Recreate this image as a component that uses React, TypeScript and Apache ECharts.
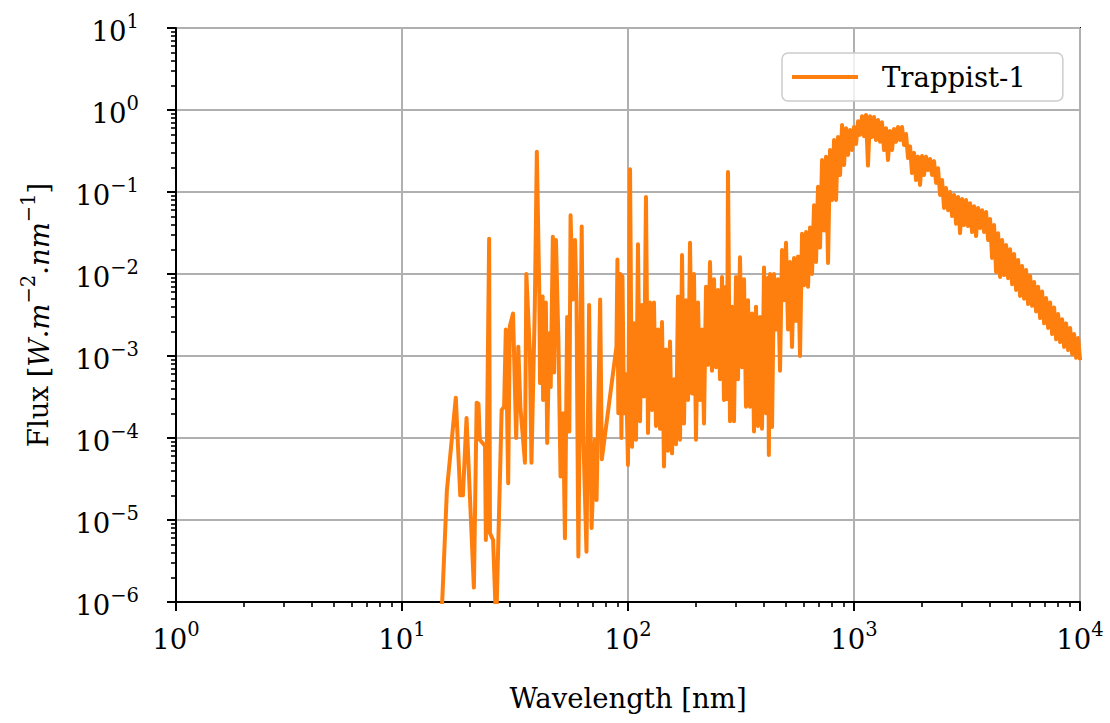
import React, { useEffect, useRef } from 'react';
import * as echarts from 'echarts';

// ---------- data (wavelength [nm], flux [W m^-2 nm^-1]) ----------
const SERIES_NAME = 'Trappist-1';
const X_LABEL = 'Wavelength [nm]';
const X_MIN = 1;
const X_MAX = 10000;
const Y_MIN = 1e-6;
const Y_MAX = 10;
const xDecades = [0, 1, 2, 3, 4];
const yDecades = [-6, -5, -4, -3, -2, -1, 0, 1];
const minorMantissas = [2, 3, 4, 5, 6, 7, 8, 9];

const fluxXuv: [number, number][] = [
  [14.9, 5e-7], [15.8, 2.3e-5], [17.3, 3.1e-4], [18.1, 2.0e-5], [18.6, 2.0e-5], [19.3, 1.75e-4],
  [20.8, 1.5e-6], [21.4, 2.7e-4], [21.8, 2.6e-4], [22.1, 9.5e-5], [23.3, 8.0e-5], [23.5, 5.7e-6],
  [24.3, 2.7e-2], [24.5, 6.9e-6], [25.3, 5.7e-6], [26.1, 5.0e-7], [27.6, 2.2e-4], [28.3, 2.4e-4],
  [28.8, 2.1e-3], [29.5, 2.8e-5], [30.0, 2.3e-3], [31.0, 3.3e-3], [32.0, 1.0e-4], [32.7, 1.3e-3],
  [33.4, 2.4e-4], [35.0, 5.0e-5], [35.5, 1.0e-2], [36.8, 1.1e-3], [37.4, 5.0e-5], [38.7, 4.0e-3],
  [39.5, 0.31], [40.5, 5.9e-3], [40.8, 4.7e-4], [41.9, 5.3e-3], [42.1, 2.9e-4], [43.3, 4.5e-3],
  [43.9, 8.7e-5], [44.9, 1.9e-3], [45.5, 4.2e-4], [46.5, 2.85e-2], [47.1, 6.3e-4], [48.0, 2.6e-2],
  [49.2, 1.6e-3], [50.3, 3.4e-5], [51.6, 2.0e-4], [52.6, 6.0e-6], [53.8, 3.0e-3], [55.0, 1.2e-4],
  [55.7, 5.2e-2], [57.0, 4.9e-3], [58.3, 2.6e-2], [59.2, 4.5e-3], [60.3, 3.6e-6], [62.4, 3.8e-2],
  [63.5, 9.5e-5], [65.5, 4.1e-6], [67.3, 4.2e-3], [69.0, 8.0e-6], [71.3, 9.5e-5], [72.6, 1.75e-5],
  [75.3, 4.9e-3], [76.6, 5.5e-5], [88.9, 1.3e-3], [89.8, 1.5e-2], [90.6, 2.0e-4], [92.5, 1.0e-2],
  [93.5, 1.0e-4], [94.5, 9.4e-3], [96.0, 2.0e-4], [98.0, 6.0e-4],
];

const fluxUv: [number, number][] = [
  [100.0, 4.7e-5], [102.1, 0.19], [104.2, 7.8e-5], [106.3, 2.5e-3], [108.5, 9.5e-5], [110.7, 2.3e-2],
  [113.0, 1.6e-4], [115.3, 4.2e-3], [117.7, 3.2e-4], [120.1, 8.7e-2], [122.6, 1.15e-4], [125.1, 4.5e-3],
  [127.7, 2.2e-4], [130.3, 4.5e-3], [133.0, 1.4e-4], [135.8, 2.1e-3], [138.6, 1.3e-4], [141.4, 2.6e-3],
  [144.3, 4.5e-5], [147.3, 1.2e-3], [150.3, 7.0e-5], [153.4, 1.5e-3], [156.6, 6.5e-5], [159.8, 5.2e-4],
  [163.1, 8.4e-5], [166.4, 5.3e-3], [169.9, 9.5e-5], [173.4, 1.7e-2], [176.9, 1.5e-4], [180.6, 4.8e-3],
  [184.3, 2.9e-4], [188.1, 2.4e-2], [192.0, 3.5e-4], [195.9, 1.0e-2], [199.9, 9.5e-5], [204.1, 4.5e-3],
  [208.3, 2.9e-4], [212.6, 2.1e-3], [216.9, 1.5e-4], [221.4, 7.0e-3], [226.0, 7.8e-4], [230.6, 1.4e-2],
  [235.3, 6.6e-4], [240.2, 8.6e-3], [245.1, 7.3e-4], [250.2, 6.4e-3], [255.3, 5.2e-4], [260.6, 9.2e-3],
  [265.9, 2.9e-4], [271.4, 7.0e-3], [274.0, 3.0e-4], [277.0, 0.175], [282.7, 1.6e-4], [288.5, 4.0e-3],
  [294.5, 1.6e-4], [300.5, 9.2e-3], [306.7, 5.2e-4], [313.0, 1.6e-2], [319.5, 7.3e-4], [326.1, 8.6e-3],
  [332.8, 2.4e-4], [339.6, 4.8e-3], [346.6, 2.4e-4], [353.8, 3.3e-3], [361.1, 1.2e-4], [368.5, 4.0e-3],
  [376.1, 1.4e-4], [383.8, 3.0e-3], [391.7, 1.3e-4], [399.8, 1.2e-2], [408.0, 2.0e-4], [416.4, 9.0e-3],
  [420.0, 6.2e-5],
];

const fluxVis: [number, number][] = [
  [425.0, 1.0e-2], [433.8, 1.36e-4], [442.7, 1.0e-2], [451.8, 2.1e-3], [461.1, 8.6e-3], [470.6, 6.6e-4],
  [480.3, 1.96e-2], [490.2, 4.8e-3], [500.3, 2.4e-2], [510.6, 2.1e-3], [521.1, 1.4e-2], [531.8, 1.29e-3],
  [542.8, 1.57e-2], [554.0, 2.7e-3], [565.4, 1.64e-2], [577.0, 1.0e-3], [588.9, 3.1e-2], [601.0, 7.3e-3],
  [613.4, 3.25e-2], [626.0, 7.0e-3], [638.9, 3.7e-2], [652.1, 1.0e-2], [665.5, 6.9e-2], [679.2, 1.4e-2],
  [693.2, 0.116], [707.5, 2.1e-2], [722.1, 0.245], [736.9, 3.4e-2], [752.1, 0.27], [767.6, 1.36e-2],
  [783.4, 0.325], [799.6, 8.0e-2], [816.0, 0.43], [832.8, 8.0e-2], [850.0, 0.47], [867.5, 0.161],
  [885.4, 0.656], [903.6, 0.213], [922.2, 0.6], [941.2, 0.283], [960.6, 0.57], [980.4, 0.325],
];

const fluxIr: [number, number][] = [
  [1000, 0.62], [1021, 0.385], [1042, 0.73], [1063, 0.5], [1085, 0.84], [1107, 0.48], [1130, 0.87],
  [1153, 0.21], [1177, 0.84], [1201, 0.47], [1226, 0.82], [1251, 0.43], [1277, 0.755], [1304, 0.41],
  [1330, 0.71], [1358, 0.325], [1386, 0.6], [1414, 0.245], [1443, 0.555], [1473, 0.325], [1504, 0.585],
  [1534, 0.41], [1566, 0.62], [1598, 0.43], [1631, 0.62], [1665, 0.374], [1699, 0.51], [1734, 0.26],
  [1770, 0.36], [1806, 0.17], [1844, 0.3], [1881, 0.14], [1920, 0.27], [1960, 0.122], [2000, 0.275],
  [2041, 0.161], [2083, 0.27], [2126, 0.185], [2170, 0.253], [2215, 0.161], [2260, 0.238], [2307, 0.129],
  [2354, 0.195], [2403, 0.092], [2452, 0.14], [2503, 0.064], [2554, 0.112], [2607, 0.06], [2661, 0.1],
  [2716, 0.051], [2772, 0.092], [2829, 0.041], [2887, 0.087], [2946, 0.0315], [3007, 0.082], [3069, 0.0396],
  [3132, 0.08], [3197, 0.0385], [3262, 0.073], [3330, 0.0325], [3398, 0.067], [3468, 0.029], [3540, 0.064],
  [3613, 0.0364], [3687, 0.06], [3763, 0.0325], [3840, 0.057], [3920, 0.026], [4000, 0.047], [4083, 0.0157],
  [4167, 0.0396], [4253, 0.0106], [4340, 0.0315], [4430, 0.0092], [4521, 0.026], [4614, 0.0097],
  [4709, 0.0226], [4806, 0.0089], [4905, 0.02], [5006, 0.0075], [5109, 0.0175], [5214, 0.0064],
  [5322, 0.0148], [5431, 0.0054], [5543, 0.0125], [5657, 0.005], [5774, 0.0112], [5893, 0.0043],
  [6014, 0.0095], [6138, 0.0041], [6264, 0.008], [6393, 0.0035], [6525, 0.007], [6659, 0.0029],
  [6797, 0.0061], [6937, 0.0025], [7079, 0.0051], [7225, 0.0022], [7374, 0.0045], [7526, 0.00185],
  [7681, 0.0039], [7839, 0.0016], [8001, 0.00325], [8165, 0.00148], [8334, 0.0028], [8505, 0.00129],
  [8680, 0.0025], [8859, 0.00118], [9042, 0.0022], [9228, 0.00106], [9418, 0.00185], [9612, 0.00095],
  [9810, 0.00166], [10011, 0.00089],
];

// ---------- styling ----------
const FONT = 'DejaVu Serif';
const ORANGE = '#ff7f0e';
const GRID_COLOR = '#b0b0b0';
const FS = 27.5;
const SUP_FS = 19.5;

const rich = {
  b: { fontFamily: FONT, fontSize: FS, lineHeight: 34, verticalAlign: 'bottom', color: '#000' },
  s: { fontFamily: FONT, fontSize: SUP_FS, lineHeight: 22, verticalAlign: 'top', color: '#000' },
  i: { fontFamily: FONT, fontSize: FS, fontStyle: 'italic', lineHeight: 34, verticalAlign: 'bottom', color: '#000' },
};

const legendRich = {
  t: { fontFamily: FONT, fontSize: FS, color: '#000', padding: [0, 0, 0, 19] },
};

const powLabel = (v: number) => {
  const e = Math.round(Math.log10(v));
  const s = e < 0 ? '\u2212' + Math.abs(e) : String(e);
  return `{b|10}{s|${s}}`;
};

const minorLogs = (decades: number[]) => {
  const out: number[] = [];
  for (let i = 0; i < decades.length - 1; i++) {
    for (const m of minorMantissas) out.push(decades[i] + Math.log10(m));
  }
  return out;
};

export default function App() {
  const ref = useRef<HTMLDivElement>(null);
  useEffect(() => {
    if (!ref.current) return;
    const chart = echarts.init(ref.current, undefined, { renderer: 'svg' });
    const data = [...fluxXuv, ...fluxUv, ...fluxVis, ...fluxIr];
    chart.setOption({
      animation: false,
      backgroundColor: '#fff',
      textStyle: { fontFamily: FONT },
      grid: {
        left: 176,
        top: 28,
        width: 904,
        height: 574,
        show: true,
        borderColor: '#000',
        borderWidth: 2,
        backgroundColor: 'transparent',
      },
      legend: {
        data: [SERIES_NAME],
        left: 782,
        top: 53,
        icon: 'rect',
        itemWidth: 66,
        itemHeight: 4,
        padding: [10, 37, 10, 10],
        borderColor: '#cccccc',
        borderWidth: 1.5,
        borderRadius: 6,
        backgroundColor: 'rgba(255,255,255,0.8)',
        formatter: (name: string) => `{t|${name}}`,
        textStyle: { fontFamily: FONT, fontSize: FS, color: '#000', rich: legendRich },
      },
      xAxis: [
        {
          type: 'log',
          logBase: 10,
          min: X_MIN,
          max: X_MAX,
          interval: 1,
          splitNumber: xDecades.length - 1,
          position: 'bottom',
          name: X_LABEL,
          nameLocation: 'middle',
          nameGap: 82,
          nameTextStyle: { fontFamily: FONT, fontSize: FS, color: '#000' },
          axisLine: { show: true, onZero: false, lineStyle: { color: '#000', width: 2 } },
          axisTick: { show: true, inside: false, length: 9, lineStyle: { color: '#000', width: 2 } },
          axisLabel: { margin: 17, formatter: powLabel, rich },
          splitLine: { show: true, lineStyle: { color: GRID_COLOR, width: 2 } },
          minorTick: { show: false },
        },
        {
          type: 'value',
          min: xDecades[0],
          max: xDecades[xDecades.length - 1],
          position: 'bottom',
          axisLine: { show: false, onZero: false },
          axisLabel: { show: false },
          splitLine: { show: false },
          axisTick: {
            show: true,
            inside: false,
            length: 5,
            lineStyle: { color: '#000', width: 1.6 },
            customValues: minorLogs(xDecades),
          },
        },
      ],
      yAxis: [
        {
          type: 'log',
          logBase: 10,
          min: Y_MIN,
          max: Y_MAX,
          interval: 1,
          splitNumber: yDecades.length - 1,
          position: 'left',
          name: '{b|Flux [}{i|W}{b|.}{i|m}{s|\u22122}{b|.}{i|nm}{s|\u22121}{b|]}',
          nameLocation: 'middle',
          nameRotate: 90,
          nameGap: 124,
          nameTextStyle: { rich },
          axisLine: { show: true, onZero: false, lineStyle: { color: '#000', width: 2 } },
          axisTick: { show: true, inside: false, length: 9, lineStyle: { color: '#000', width: 2 } },
          axisLabel: { margin: 37, formatter: powLabel, rich },
          splitLine: { show: true, lineStyle: { color: GRID_COLOR, width: 2 } },
          minorTick: { show: false },
        },
        {
          type: 'value',
          min: yDecades[0],
          max: yDecades[yDecades.length - 1],
          position: 'left',
          axisLine: { show: false, onZero: false },
          axisLabel: { show: false },
          splitLine: { show: false },
          axisTick: {
            show: true,
            inside: false,
            length: 5,
            lineStyle: { color: '#000', width: 1.6 },
            customValues: minorLogs(yDecades),
          },
        },
      ],
      series: [
        {
          name: SERIES_NAME,
          type: 'line',
          xAxisIndex: 0,
          yAxisIndex: 0,
          data,
          showSymbol: false,
          symbol: 'none',
          clip: true,
          lineStyle: { color: ORANGE, width: 4, join: 'round' },
          itemStyle: { color: ORANGE },
          emphasis: { disabled: true },
        },
      ],
    });
    return () => chart.dispose();
  }, []);
  return (
    <div
      ref={ref}
      style={{ position: 'fixed', left: 0, top: 0, width: 1110, height: 723, background: '#fff' }}
    />
  );
}
